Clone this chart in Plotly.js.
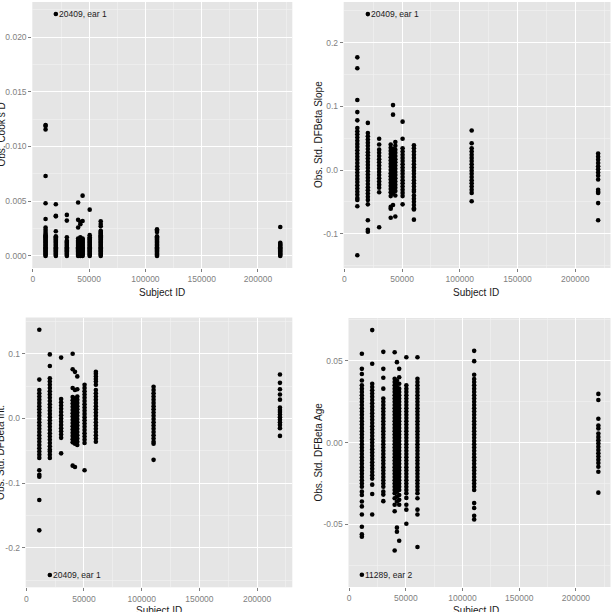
<!DOCTYPE html>
<html><head><meta charset="utf-8">
<script src="https://cdn.plot.ly/plotly-3.0.1.min.js"></script>
<style>html,body{margin:0;padding:0;background:#fff;overflow:hidden}#chart{width:613px;height:612px}</style>
</head><body><div id="chart"></div><script>
// Subject ID of each vertical strip of observations
const subjectIds = [11289, 20409, 30200, 40200, 42200, 44200, 50500, 60300, 110300, 219800];

// One inner list of observation values per subjectIds entry
const cooksD = [
  [0.01197, 0.01188, 0.01155, 0.00731, 0.00482, 0.00338, 0.0026, 0.0024, 0.0022, 0.0020, 0.0018, 0.0016, 0.0014, 0.0012, 0.0010, 0.0008, 0.0006, 0.0004, 0.0002, 0.0000, 0.0001, 0.0003, 0.0005, 0.0007, 0.0009, 0.0011, 0.0013, 0.0015, 0.0017, 0.0019],
  [0.0221, 0.00472, 0.00368, 0.00362, 0.00226, 0.0018, 0.0016, 0.0014, 0.0012, 0.0010, 0.0008, 0.0006, 0.0004, 0.0002, 0.0000, 0.0001, 0.0003, 0.0005, 0.0007, 0.0009, 0.0011, 0.0013, 0.0015, 0.0017],
  [0.00375, 0.00323, 0.0017, 0.0014, 0.0012, 0.0010, 0.0008, 0.0006, 0.0004, 0.0002, 0.0000, 0.0001, 0.0003, 0.0005, 0.0007, 0.0009, 0.0011, 0.0013],
  [0.00488, 0.0033, 0.0026, 0.0016, 0.0014, 0.0012, 0.0010, 0.0008, 0.0006, 0.0004, 0.0002, 0.0000, 0.0001, 0.0003, 0.0005, 0.0007, 0.0009, 0.0011, 0.0013],
  [0.0031, 0.0029, 0.0017, 0.0015, 0.0013, 0.0011, 0.0009, 0.0007, 0.0005, 0.0003, 0.0001, 0.0000, 0.0002, 0.0004, 0.0006, 0.0008, 0.0010, 0.0012, 0.0014],
  [0.00551, 0.0032, 0.0016, 0.0014, 0.0012, 0.0010, 0.0008, 0.0006, 0.0004, 0.0002, 0.0000, 0.0001, 0.0003, 0.0005, 0.0007, 0.0009, 0.0011, 0.0013, 0.0015],
  [0.00423, 0.0019, 0.0017, 0.0015, 0.0013, 0.0011, 0.0009, 0.0007, 0.0005, 0.0003, 0.0001, 0.0000, 0.0002, 0.0004, 0.0006, 0.0008, 0.0010, 0.0012, 0.0014, 0.0016],
  [0.00317, 0.00292, 0.00271, 0.0023, 0.0021, 0.0019, 0.0017, 0.0015, 0.0013, 0.0011, 0.0009, 0.0007, 0.0005, 0.0003, 0.0001, 0.0000, 0.0002, 0.0004, 0.0006, 0.0008, 0.0010, 0.0012, 0.0014, 0.0016, 0.0018, 0.0020, 0.0022],
  [0.00244, 0.00232, 0.0022, 0.0018, 0.0016, 0.0014, 0.0012, 0.0010, 0.0008, 0.0006, 0.0004, 0.0002, 0.0000, 0.0001, 0.0003, 0.0005, 0.0007, 0.0009, 0.0011, 0.0013, 0.0015, 0.0017],
  [0.00265, 0.0012, 0.0010, 0.0008, 0.0006, 0.0004, 0.0002, 0.0000, 0.0001, 0.0003, 0.0005, 0.0007, 0.0009, 0.0011]
];

const dfbetaSlope = [
  [0.177, 0.160, 0.110, 0.091, 0.078, 0.066, 0.061, 0.056, 0.051, 0.046, 0.041, 0.036, 0.031, 0.026, 0.021, 0.016, 0.011, 0.006, 0.001, -0.004, -0.009, -0.014, -0.019, -0.024, -0.029, -0.034, -0.039, -0.044, -0.047, -0.057, -0.134],
  [0.245, 0.074, 0.058, 0.053, 0.048, 0.043, 0.038, 0.033, 0.028, 0.023, 0.018, 0.013, 0.008, 0.003, -0.002, -0.007, -0.012, -0.017, -0.022, -0.027, -0.032, -0.037, -0.042, -0.047, -0.054, -0.079, -0.094, -0.097],
  [0.049, 0.040, 0.032, 0.027, 0.022, 0.017, 0.012, 0.007, 0.002, -0.003, -0.008, -0.013, -0.018, -0.023, -0.028, -0.035, -0.090],
  [0.040, 0.035, 0.030, 0.025, 0.020, 0.015, 0.010, 0.005, 0.000, -0.005, -0.010, -0.015, -0.020, -0.025, -0.030, -0.035, -0.041, -0.058, -0.061, -0.075],
  [0.102, 0.087, 0.033, 0.028, 0.023, 0.018, 0.013, 0.008, 0.003, -0.002, -0.007, -0.012, -0.017, -0.022, -0.027, -0.032, -0.037, -0.055],
  [0.044, 0.038, 0.032, 0.027, 0.022, 0.017, 0.012, 0.007, 0.002, -0.003, -0.008, -0.013, -0.018, -0.023, -0.028, -0.033, -0.040, -0.073],
  [0.076, 0.049, 0.034, 0.029, 0.024, 0.019, 0.014, 0.009, 0.004, -0.001, -0.006, -0.011, -0.016, -0.021, -0.026, -0.031, -0.036, -0.041, -0.054],
  [0.039, 0.034, 0.029, 0.024, 0.019, 0.014, 0.009, 0.004, -0.001, -0.006, -0.011, -0.016, -0.021, -0.026, -0.031, -0.034, -0.040, -0.045, -0.050, -0.055, -0.060, -0.062, -0.078],
  [0.062, 0.042, 0.034, 0.029, 0.024, 0.019, 0.014, 0.009, 0.004, -0.001, -0.006, -0.011, -0.016, -0.021, -0.026, -0.031, -0.036, -0.049],
  [0.026, 0.021, 0.016, 0.011, 0.006, 0.001, -0.004, -0.009, -0.015, -0.031, -0.034, -0.036, -0.052, -0.079]
];

const dfbetaInt = [
  [0.137, 0.060, 0.044, 0.039, 0.034, 0.029, 0.024, 0.019, 0.014, 0.009, 0.004, -0.001, -0.006, -0.011, -0.016, -0.021, -0.026, -0.031, -0.036, -0.041, -0.046, -0.051, -0.056, -0.061, -0.080, -0.087, -0.090, -0.126, -0.173],
  [0.099, 0.081, 0.062, 0.057, 0.052, 0.047, 0.042, 0.037, 0.032, 0.027, 0.022, 0.017, 0.012, 0.007, 0.002, -0.003, -0.008, -0.013, -0.018, -0.023, -0.028, -0.033, -0.038, -0.043, -0.048, -0.051, -0.056, -0.061, -0.242],
  [0.094, 0.030, 0.025, 0.020, 0.015, 0.010, 0.005, 0.000, -0.005, -0.010, -0.015, -0.020, -0.025, -0.030, -0.054],
  [0.100, 0.076, 0.047, 0.033, 0.028, 0.023, 0.018, 0.013, 0.008, 0.003, -0.002, -0.007, -0.012, -0.017, -0.022, -0.027, -0.032, -0.037, -0.073],
  [0.072, 0.044, 0.031, 0.026, 0.021, 0.016, 0.011, 0.006, 0.001, -0.004, -0.009, -0.014, -0.019, -0.024, -0.029, -0.034, -0.039, -0.075],
  [0.065, 0.045, 0.034, 0.029, 0.024, 0.019, 0.014, 0.009, 0.004, -0.001, -0.006, -0.011, -0.016, -0.021, -0.026, -0.031, -0.036, -0.041],
  [0.052, 0.047, 0.042, 0.037, 0.032, 0.027, 0.022, 0.017, 0.012, 0.007, 0.002, -0.003, -0.008, -0.013, -0.018, -0.023, -0.028, -0.033, -0.038, -0.080],
  [0.072, 0.069, 0.065, 0.061, 0.057, 0.052, 0.044, 0.039, 0.034, 0.029, 0.024, 0.019, 0.014, 0.009, 0.004, -0.001, -0.006, -0.011, -0.016, -0.021, -0.026, -0.031, -0.036],
  [0.049, 0.044, 0.039, 0.034, 0.029, 0.024, 0.019, 0.014, 0.009, 0.004, -0.001, -0.006, -0.011, -0.016, -0.021, -0.026, -0.031, -0.036, -0.039, -0.064],
  [0.068, 0.055, 0.045, 0.037, 0.029, 0.017, 0.013, 0.010, 0.006, 0.002, -0.002, -0.006, -0.010, -0.015, -0.027]
];

const dfbetaAge = [
  [0.0543, 0.0451, 0.042, 0.038, 0.035, 0.033, 0.031, 0.029, 0.027, 0.025, 0.023, 0.021, 0.019, 0.017, 0.015, 0.013, 0.011, 0.009, 0.007, 0.005, 0.003, 0.001, -0.001, -0.003, -0.005, -0.007, -0.009, -0.011, -0.013, -0.015, -0.017, -0.019, -0.021, -0.023, -0.025, -0.027, -0.030, -0.032, -0.036, -0.039, -0.044, -0.0515, -0.056, -0.0575, -0.0808],
  [0.0688, 0.0482, 0.036, 0.034, 0.032, 0.030, 0.028, 0.026, 0.024, 0.022, 0.020, 0.018, 0.016, 0.014, 0.012, 0.010, 0.008, 0.006, 0.004, 0.002, 0.000, -0.002, -0.004, -0.006, -0.008, -0.010, -0.012, -0.014, -0.016, -0.018, -0.020, -0.022, -0.0257, -0.0314, -0.044],
  [0.0555, 0.0451, 0.0397, 0.033, 0.0269, 0.025, 0.023, 0.021, 0.019, 0.017, 0.015, 0.013, 0.011, 0.009, 0.007, 0.005, 0.003, 0.001, -0.001, -0.003, -0.005, -0.007, -0.009, -0.011, -0.013, -0.015, -0.017, -0.019, -0.021, -0.023, -0.025, -0.027, -0.030, -0.0318, -0.0358],
  [0.0553, 0.039, 0.037, 0.035, 0.033, 0.031, 0.029, 0.027, 0.025, 0.023, 0.021, 0.019, 0.017, 0.015, 0.013, 0.011, 0.009, 0.007, 0.005, 0.003, 0.001, -0.001, -0.003, -0.005, -0.007, -0.009, -0.011, -0.013, -0.015, -0.017, -0.019, -0.021, -0.023, -0.025, -0.027, -0.029, -0.031, -0.034, -0.038, -0.042, -0.066],
  [0.0492, 0.038, 0.036, 0.034, 0.032, 0.030, 0.028, 0.026, 0.024, 0.022, 0.020, 0.018, 0.016, 0.014, 0.012, 0.010, 0.008, 0.006, 0.004, 0.002, 0.000, -0.002, -0.004, -0.006, -0.008, -0.010, -0.012, -0.014, -0.016, -0.018, -0.020, -0.022, -0.024, -0.026, -0.028, -0.030, -0.033, -0.036, -0.052, -0.0545],
  [0.0451, 0.040, 0.036, 0.033, 0.031, 0.029, 0.027, 0.025, 0.023, 0.021, 0.019, 0.017, 0.015, 0.013, 0.011, 0.009, 0.007, 0.005, 0.003, 0.001, -0.001, -0.003, -0.005, -0.007, -0.009, -0.011, -0.013, -0.015, -0.017, -0.019, -0.021, -0.023, -0.025, -0.027, -0.029, -0.032, -0.035, -0.038, -0.060],
  [0.0522, 0.035, 0.033, 0.031, 0.029, 0.027, 0.025, 0.023, 0.021, 0.019, 0.017, 0.015, 0.013, 0.011, 0.009, 0.007, 0.005, 0.003, 0.001, -0.001, -0.003, -0.005, -0.007, -0.009, -0.011, -0.013, -0.015, -0.017, -0.019, -0.021, -0.023, -0.025, -0.027, -0.029, -0.031, -0.0338, -0.038, -0.041, -0.0496],
  [0.0522, 0.039, 0.037, 0.035, 0.033, 0.031, 0.029, 0.027, 0.025, 0.023, 0.021, 0.019, 0.017, 0.015, 0.013, 0.011, 0.009, 0.007, 0.005, 0.003, 0.001, -0.001, -0.003, -0.005, -0.007, -0.009, -0.011, -0.013, -0.015, -0.017, -0.019, -0.021, -0.023, -0.025, -0.027, -0.029, -0.031, -0.034, -0.041, -0.044, -0.0638],
  [0.0561, 0.0498, 0.0415, 0.0389, 0.037, 0.035, 0.033, 0.031, 0.029, 0.027, 0.025, 0.023, 0.021, 0.019, 0.017, 0.015, 0.013, 0.011, 0.009, 0.007, 0.005, 0.003, 0.001, -0.001, -0.003, -0.005, -0.007, -0.009, -0.011, -0.013, -0.015, -0.017, -0.019, -0.021, -0.023, -0.025, -0.027, -0.029, -0.037, -0.040, -0.0448, -0.047],
  [0.0298, 0.0261, 0.0146, 0.0105, 0.0087, 0.0055, 0.0035, 0.0015, -0.0005, -0.0025, -0.0045, -0.0065, -0.0085, -0.0105, -0.0125, -0.0148, -0.0178, -0.0306]
];

// Axis titles and tick labels
const panelTitles = ["Obs. Cook's D", "Obs. Std. DFBeta Slope", "Obs. Std. DFBeta Int.", "Obs. Std. DFBeta Age"];
const xTitle = "Subject ID";
const xTickVals = [0, 50000, 100000, 150000, 200000];
const xTickText = ["0", "50000", "100000", "150000", "200000"];
const xMinorVals = [25000, 75000, 125000, 175000, 225000];
const cookTickVals = [0, 0.005, 0.010, 0.015, 0.020];
const cookTickText = ["0.000", "0.005", "0.010", "0.015", "0.020"];
const cookMinorVals = [-0.0025, 0.0025, 0.0075, 0.0125, 0.0175, 0.0225];
const slopeTickVals = [-0.1, 0, 0.1, 0.2];
const slopeTickText = ["-0.1", "0.0", "0.1", "0.2"];
const slopeMinorVals = [-0.15, -0.05, 0.05, 0.15, 0.25];
const intTickVals = [-0.2, -0.1, 0, 0.1];
const intTickText = ["-0.2", "-0.1", "0.0", "0.1"];
const intMinorVals = [-0.25, -0.15, -0.05, 0.05, 0.15];
const ageTickVals = [-0.05, 0, 0.05];
const ageTickText = ["-0.05", "0.00", "0.05"];
const ageMinorVals = [-0.075, -0.025, 0.025, 0.075];
// Labelled observations: text, strip index, extreme picked
const labelTexts = ["20409, ear 1", "20409, ear 1", "20409, ear 1", "11289, ear 2"];
const labelStrips = [1, 1, 1, 0];
const labelPicks = ["max", "max", "min", "min"];

// ---------- drawing ----------
const W = 613, H = 612;
const px = v => v / W, py = v => 1 - v / H;
const series = [cooksD, dfbetaSlope, dfbetaInt, dfbetaAge];
const yTicks = [[cookTickVals, cookTickText, cookMinorVals], [slopeTickVals, slopeTickText, slopeMinorVals], [intTickVals, intTickText, intMinorVals], [ageTickVals, ageTickText, ageMinorVals]];
// panel boxes in pixels: left, right, top, bottom
const boxes = [[32.3, 292.3, 2, 268], [343.7, 610.5, 2, 268], [25.7, 292.3, 317.5, 587.3], [348.5, 610.5, 318, 587]];
const yRanges = [[-0.0011, 0.0232], [-0.154, 0.264], [-0.261, 0.156], [-0.0883, 0.0762]];
const titleX = [0.5, 318, 0.5, 318];
const xTitleX = [162, 476, 159, 476];
const xTitleY = [292, 292, 610, 610];

const grey = '#7f7f7f';
const traces = [], annotations = [];
const layout = {
  width: W, height: H, margin: {l: 0, r: 0, t: 0, b: 0},
  paper_bgcolor: '#ffffff', plot_bgcolor: '#E5E5E5', showlegend: false,
  font: {family: 'Liberation Sans, Arial, sans-serif', color: '#1a1a1a'},
  annotations
};
series.forEach((s, p) => {
  const xs = [], ys = [];
  s.forEach((vals, i) => vals.forEach(v => { xs.push(subjectIds[i]); ys.push(v); }));
  const sfx = p === 0 ? '' : String(p + 1);
  traces.push({type: 'scatter', mode: 'markers', x: xs, y: ys, xaxis: 'x' + sfx, yaxis: 'y' + sfx,
    marker: {color: '#000000', size: 4.6, line: {width: 0}}, hoverinfo: 'skip'});
  const b = boxes[p];
  layout['xaxis' + sfx] = {domain: [px(b[0]), px(b[1])], anchor: 'y' + sfx, range: [-500, 230500],
    tickmode: 'array', tickvals: xTickVals, ticktext: xTickText, ticks: 'outside', ticklen: 3, tickwidth: 1, tickcolor: grey,
    tickfont: {size: 8.5, color: grey}, showgrid: true, gridcolor: '#ffffff', gridwidth: 1, zeroline: false, showline: false,
    minor: {tickmode: 'array', tickvals: xMinorVals, showgrid: true, gridcolor: '#F2F2F2', gridwidth: 0.6, ticks: ''}, fixedrange: true};
  const yt = yTicks[p];
  layout['yaxis' + sfx] = {domain: [py(b[3]), py(b[2])], anchor: 'x' + sfx, range: yRanges[p],
    tickmode: 'array', tickvals: yt[0], ticktext: yt[1], ticks: 'outside', ticklen: 3, tickwidth: 1, tickcolor: grey,
    tickfont: {size: 8.5, color: grey}, showgrid: true, gridcolor: '#ffffff', gridwidth: 1, zeroline: false, showline: false,
    minor: {tickmode: 'array', tickvals: yt[2], showgrid: true, gridcolor: '#F2F2F2', gridwidth: 0.6, ticks: ''}, fixedrange: true};
  annotations.push({xref: 'paper', yref: 'paper', x: px(titleX[p]), y: py((b[2] + b[3]) / 2), text: panelTitles[p],
    textangle: -90, showarrow: false, xanchor: 'center', yanchor: 'middle', font: {size: 10, color: '#1a1a1a'}});
  annotations.push({xref: 'paper', yref: 'paper', x: px(xTitleX[p]), y: py(xTitleY[p]), text: xTitle,
    showarrow: false, xanchor: 'center', yanchor: 'middle', font: {size: 10, color: '#1a1a1a'}});
  const li = labelStrips[p];
  const lv = labelPicks[p] === 'max' ? Math.max(...s[li]) : Math.min(...s[li]);
  annotations.push({xref: 'x' + sfx, yref: 'y' + sfx, x: subjectIds[li], y: lv, text: labelTexts[p], showarrow: false,
    xanchor: 'left', yanchor: 'middle', xshift: 1, font: {size: 8.5, color: '#1a1a1a'}});
});
Plotly.newPlot('chart', traces, layout, {staticPlot: true, displayModeBar: false});
</script></body></html>
